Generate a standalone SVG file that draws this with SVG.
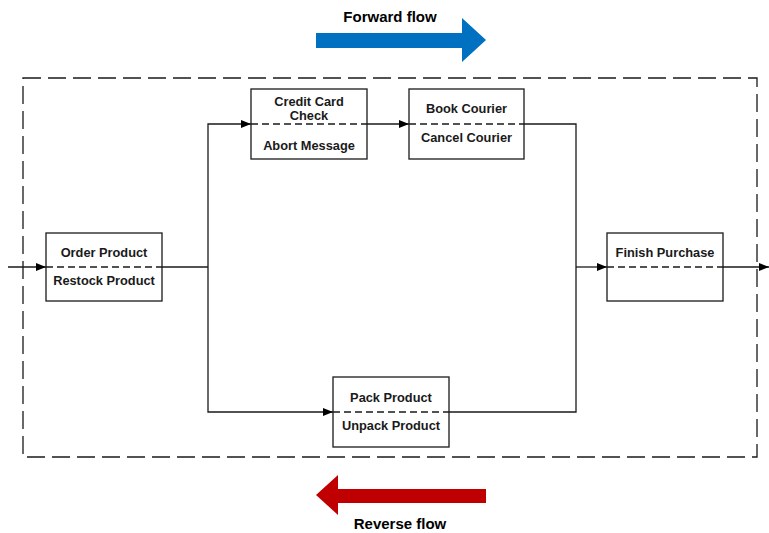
<svg xmlns="http://www.w3.org/2000/svg" width="769" height="533" viewBox="0 0 769 533">
<defs>
<style>
.box{fill:#fff;stroke:#1a1a1a;stroke-width:1.3}
.mid{stroke:#1a1a1a;stroke-width:1.3;stroke-dasharray:7 4;fill:none}
.t{font-family:"Liberation Sans",Arial,sans-serif;font-weight:bold;font-size:12.8px;fill:#1a1a1a;text-anchor:middle}
.big{font-family:"Liberation Sans",Arial,sans-serif;font-weight:bold;font-size:15px;fill:#000;text-anchor:middle}
.c{stroke:#1a1a1a;stroke-width:1.3;fill:none}
</style>
<marker id="ah" viewBox="0 0 10 8" refX="10" refY="4" markerWidth="10" markerHeight="8" markerUnits="userSpaceOnUse" orient="auto">
<path d="M0,0 L10,4 L0,8 Z" fill="#000"/>
</marker>
</defs>
<rect width="769" height="533" fill="#fff"/>
<rect id="boundary" x="23" y="78" width="734" height="379" fill="none" stroke="#1a1a1a" stroke-width="1.3" stroke-dasharray="18 7"/>
<g id="connectors">
<path class="c" d="M8,267 H46" marker-end="url(#ah)"/>
<path class="c" d="M162,267 H208"/>
<path class="c" d="M208,267 V124 H251" marker-end="url(#ah)"/>
<path class="c" d="M208,267 V412 H333" marker-end="url(#ah)"/>
<path class="c" d="M367,124 H409" marker-end="url(#ah)"/>
<path class="c" d="M524,124 H576 V412 H449"/>
<path class="c" d="M576,267 H607" marker-end="url(#ah)"/>
<path class="c" d="M723,267 H769" marker-end="url(#ah)"/>
</g>
<g id="order">
<rect class="box" x="46" y="233" width="116" height="68"/>
<path class="mid" d="M46,267 H162"/>
<text class="t" x="104" y="256.5">Order Product</text>
<text class="t" x="104" y="285">Restock Product</text>
</g>
<g id="credit">
<rect class="box" x="251" y="89" width="116" height="70"/>
<path class="mid" d="M251,124 H367"/>
<text class="t" x="309" y="105.5">Credit Card</text>
<text class="t" x="309" y="120">Check</text>
<text class="t" x="309" y="150">Abort Message</text>
</g>
<g id="courier">
<rect class="box" x="409" y="89" width="115" height="70"/>
<path class="mid" d="M409,124 H524"/>
<text class="t" x="466.5" y="113">Book Courier</text>
<text class="t" x="466.5" y="142">Cancel Courier</text>
</g>
<g id="pack">
<rect class="box" x="333" y="377" width="116" height="70"/>
<path class="mid" d="M333,412 H449"/>
<text class="t" x="391" y="401.5">Pack Product</text>
<text class="t" x="391" y="430">Unpack Product</text>
</g>
<g id="finish">
<rect class="box" x="607" y="233" width="116" height="68"/>
<path class="mid" d="M607,267 H723"/>
<text class="t" x="665" y="256.5">Finish Purchase</text>
</g>
<g id="forward">
<path d="M316,33 H462 V18 L486,40 L462,62 V48 H316 Z" fill="#0070C0"/>
<text class="big" x="390" y="22">Forward flow</text>
</g>
<g id="reverse">
<path d="M486,489 H338 V475 L316,495 L338,515 V503 H486 Z" fill="#C00000"/>
<text class="big" x="400" y="529">Reverse flow</text>
</g>
</svg>
